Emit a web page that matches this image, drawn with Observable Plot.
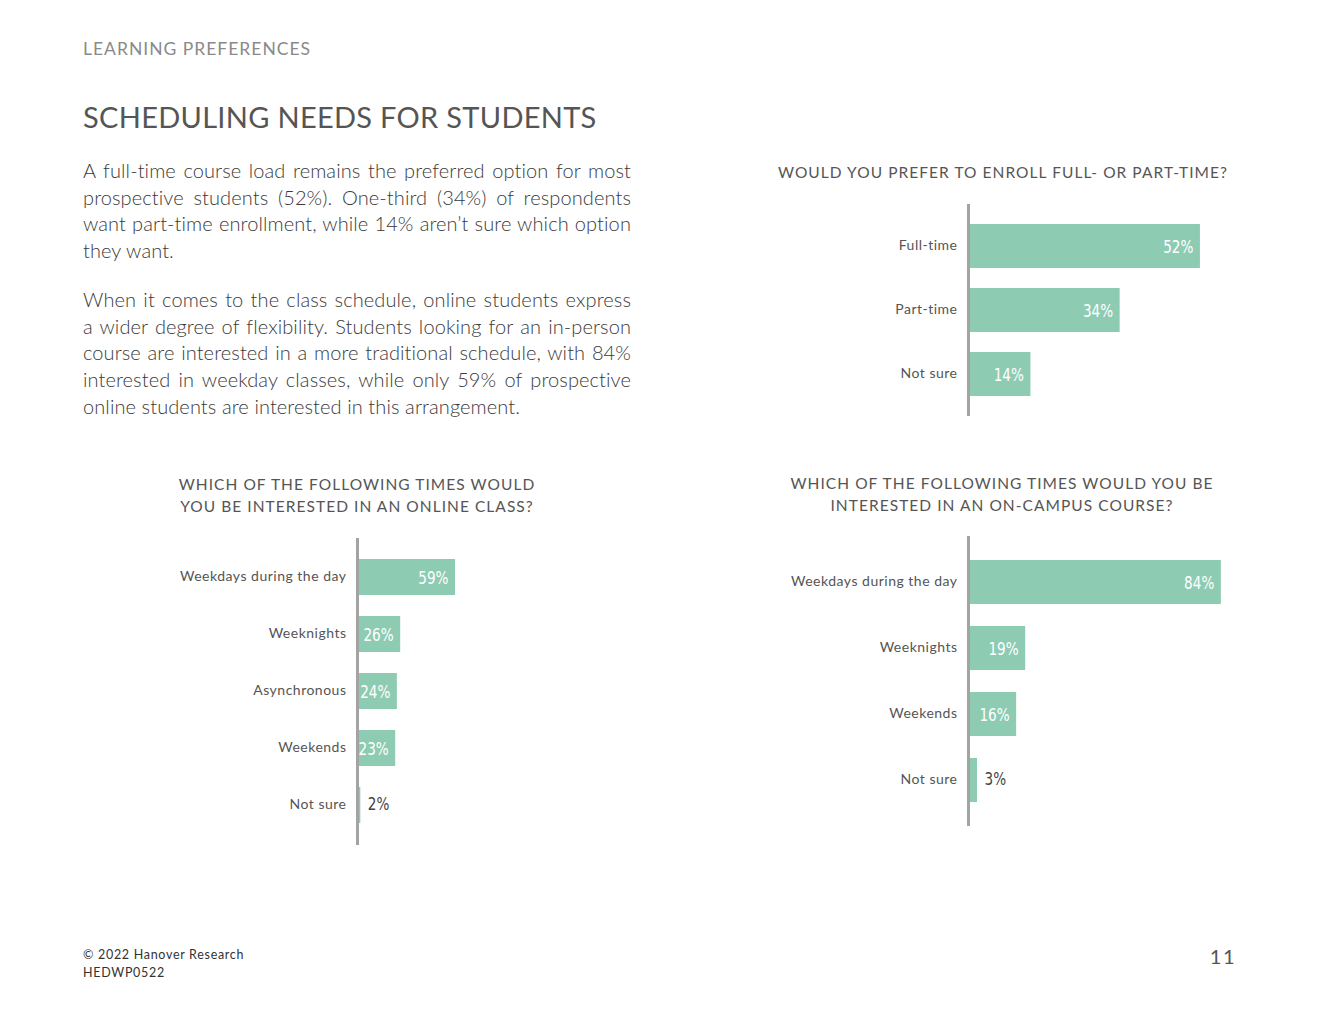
<!DOCTYPE html>
<html>
<head>
<meta charset="utf-8">
<script src="https://cdn.jsdelivr.net/npm/d3@7"></script>
<script src="https://cdn.jsdelivr.net/npm/@observablehq/plot@0.6"></script>
<style>
  html, body { margin: 0; padding: 0; background: #fff; }
  #page { position: relative; width: 1320px; height: 1020px; font-family: Lato, "Noto Sans", sans-serif; color: #555; overflow: hidden; }
  .abs { position: absolute; }
  #kicker { left: 83px; top: 38px; font-size: 17.5px; color: #8a8a8a; letter-spacing: 1px; }
  #title { left: 83px; top: 99px; font-size: 29px; color: #555; letter-spacing: 0.3px; }
  .para { left: 83px; width: 548px; font-size: 20px; font-weight: 300; line-height: 26.7px; letter-spacing: 0.1px; color: #3a3a3a; }
  .para span { display: block; text-align: justify; text-align-last: justify; }
  .para span.last { text-align-last: left; }
  .ctitle { font-size: 15.5px; letter-spacing: 1.05px; line-height: 22px; color: #555; text-align: center; text-transform: uppercase; }
  #foot { left: 83px; top: 946px; font-size: 12.5px; letter-spacing: 0.7px; line-height: 18px; color: #333; }
  #pnum { right: 84px; top: 944px; font-size: 20px; color: #555; letter-spacing: 1.5px; }
  .chart svg g[aria-label="y-axis tick label"] text { letter-spacing: 0.5px; }
  .chart svg g[aria-label="text"] text { font-family: "DejaVu Sans", sans-serif; font-stretch: condensed; }
</style>
</head>
<body>
<div id="page">
  <div id="kicker" class="abs">LEARNING PREFERENCES</div>
  <div id="title" class="abs">SCHEDULING NEEDS FOR STUDENTS</div>
  <div class="abs para" style="top:157px">
    <span>A full-time course load remains the preferred option for most</span>
    <span>prospective students (52%). One-third (34%) of respondents</span>
    <span>want part-time enrollment, while 14% aren’t sure which option</span>
    <span class="last">they want.</span>
  </div>
  <div class="abs para" style="top:286px">
    <span>When it comes to the class schedule, online students express</span>
    <span>a wider degree of flexibility. Students looking for an in-person</span>
    <span>course are interested in a more traditional schedule, with 84%</span>
    <span>interested in weekday classes, while only 59% of prospective</span>
    <span class="last">online students are interested in this arrangement.</span>
  </div>

  <div class="abs ctitle" style="left:760px; width:486px; top:161px">Would you prefer to enroll full- or part-time?</div>
  <div class="abs ctitle" style="left:127px; width:460px; top:473px">Which of the following times would<br>you be interested in an online class?</div>
  <div class="abs ctitle" style="left:762px; width:480px; top:472px">Which of the following times would you be<br>interested in an on-campus course?</div>

  <div id="c1" class="abs chart" style="left:780px; top:195px"></div>
  <div id="c2" class="abs chart" style="left:160px; top:528px"></div>
  <div id="c3" class="abs chart" style="left:780px; top:528px"></div>

  <div id="foot" class="abs">© 2022 Hanover Research<br>HEDWP0522</div>
  <div id="pnum" class="abs">11</div>
</div>
<script>
// ---- data ----
const enrollCategories = ["Full-time", "Part-time", "Not sure"];
const enrollValues = [52, 34, 14];

const onlineCategories = ["Weekdays during the day", "Weeknights", "Asynchronous", "Weekends", "Not sure"];
const onlineValues = [59, 26, 24, 23, 2];

const campusCategories = ["Weekdays during the day", "Weeknights", "Weekends", "Not sure"];
const campusValues = [84, 19, 16, 3];

const BAR = "#8ecbb3";

function condense(svg, k) {
  // narrow the value labels horizontally around their anchor point
  svg.querySelectorAll('g[aria-label="text"] text').forEach(t => {
    const tr = t.getAttribute("transform");
    if (tr) t.setAttribute("transform", `${tr} scale(${k},1)`);
  });
  return svg;
}

function makeChart({cats, vals, width, height, marginLeft, marginTop, marginBottom, xmax, pxPer, padding, inside}) {
  const data = cats.map((c, i) => ({c, v: vals[i]}));
  const marginRight = width - marginLeft - pxPer * xmax;
  const svg = Plot.plot({
    width, height, marginLeft, marginRight, marginTop, marginBottom,
    style: {fontFamily: "Lato, 'Noto Sans', sans-serif", fontSize: "14px", color: "#555", background: "transparent", overflow: "visible"},
    x: {domain: [0, xmax], axis: null},
    y: {domain: cats, padding, label: null},
    marks: [
      Plot.barX(data, {x: "v", y: "c", fill: BAR}),
      Plot.ruleX([0], {stroke: "#a3a3a3", strokeWidth: 3}),
      Plot.axisY({tickSize: 0, tickPadding: 11, fill: "#555", fontSize: 14, label: null, dy: -1}),
      Plot.text(data, {filter: d => d.v >= inside, x: "v", y: "c", text: d => d.v + "%", textAnchor: "end", dx: -7, dy: 1, fill: "white", fontSize: 18}),
      Plot.text(data, {filter: d => d.v < inside, x: "v", y: "c", text: d => d.v + "%", textAnchor: "start", dx: 7, dy: -1, fill: "#444", fontSize: 18})
    ]
  });
  return condense(svg, 0.84);
}

document.getElementById("c1").append(makeChart({
  cats: enrollCategories, vals: enrollValues,
  width: 460, height: 231, marginLeft: 188, marginTop: 9, marginBottom: 10,
  xmax: 60, pxPer: 4.46, padding: 0.31, inside: 10
}));
document.getElementById("c2").append(makeChart({
  cats: onlineCategories, vals: onlineValues,
  width: 320, height: 327, marginLeft: 197, marginTop: 10, marginBottom: 10,
  xmax: 60, pxPer: 1.661, padding: 0.36, inside: 10
}));
document.getElementById("c3").append(makeChart({
  cats: campusCategories, vals: campusValues,
  width: 460, height: 306, marginLeft: 188, marginTop: 8, marginBottom: 8,
  xmax: 90, pxPer: 3.01, padding: 0.334, inside: 10
}));
</script>
</body>
</html>
